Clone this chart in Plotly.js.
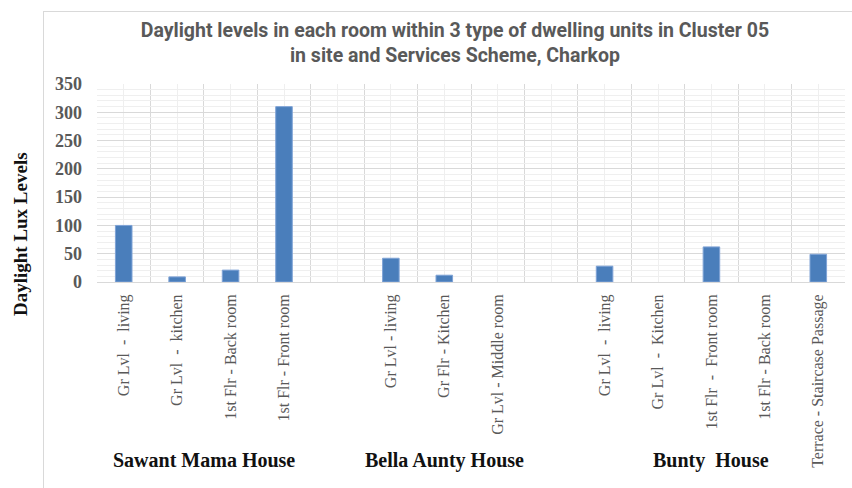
<!DOCTYPE html>
<html>
<head>
<meta charset="utf-8">
<script src="https://cdn.plot.ly/plotly-3.0.1.min.js"></script>
<style>
  html, body { margin: 0; padding: 0; background: #ffffff; }
  #wrap { position: relative; width: 852px; height: 488px; overflow: hidden; }
  #frame { position: absolute; left: 43px; top: 11px; width: 830px; height: 500px;
           border: 1px solid #d9d9d9; box-sizing: border-box; }
  #chart { position: absolute; left: 0; top: 0; width: 852px; height: 488px; }
</style>
</head>
<body>
<div id="wrap">
  <div id="frame"></div>
  <div id="chart"></div>
</div>
<script>
// Room labels along the x axis (empty strings are spacer slots between houses)
const rooms = [
  "Gr Lvl\u00a0 - \u00a0living",
  "Gr Lvl\u00a0 - \u00a0kitchen",
  "1st Flr - Back room",
  "1st Flr - Front room",
  "",
  "Gr Lvl - living",
  "Gr Flr - Kitchen",
  "Gr Lvl - Middle room",
  "",
  "Gr Lvl\u00a0 - \u00a0living",
  "Gr Lvl\u00a0 - \u00a0Kitchen",
  "1st Flr\u00a0 - \u00a0Front room",
  "1st Flr - Back room",
  "Terrace - Staircase Passage"
];

// Daylight lux level measured in each room (null = no bar)
const luxLevels = [100, 9, 21, 310, null, 42, 12, null, null, 28, null, 62, null, 49];

// Which house each slot belongs to
const houses = ["Sawant Mama House", "Bella Aunty House", "Bunty\u00a0 House"];
const houseOfSlot = [0, 0, 0, 0, null, 1, 1, 1, null, 2, 2, 2, 2, 2];

const slots = rooms.map((_, i) => i);
const boundaries = rooms.map((_, i) => i - 0.5).concat([rooms.length - 0.5]);

const serif = "Liberation Serif, DejaVu Serif, serif";

// House names centred under their own rooms
const houseAnnotations = houses.map((name, h) => {
  const members = slots.filter(i => houseOfSlot[i] === h);
  const mid = members.reduce((a, b) => a + b, 0) / members.length;
  return {
    text: "<b>" + name + "</b>",
    x: mid, xref: "x",
    y: -0.9, yref: "paper",
    xanchor: "center", yanchor: "middle",
    showarrow: false,
    font: { family: serif, size: 20, color: "#111111" }
  };
});

// Y axis caption, set a little below the middle of the plot
const yCaption = {
  text: "<b>Daylight Lux Levels</b>",
  textangle: -90,
  x: -0.103, xref: "paper",
  y: 0.242, yref: "paper",
  xanchor: "center", yanchor: "middle",
  showarrow: false,
  font: { family: serif, size: 19, color: "#111111" }
};

const trace = {
  type: "bar",
  x: slots,
  y: luxLevels,
  width: 0.31,
  marker: { color: "#4a7ebb", line: { color: "#7fa3d6", width: 1 } },
  hoverinfo: "skip"
};

const layout = {
  width: 852,
  height: 488,
  margin: { l: 97, r: 7, t: 84, b: 206 },
  paper_bgcolor: "rgba(0,0,0,0)",
  plot_bgcolor: "#ffffff",
  showlegend: false,
  title: {
    text: "Daylight levels in each room within 3 type of dwelling units in Cluster 05<br>in site and Services Scheme, Charkop",
    font: { family: "Liberation Sans Narrow, Roboto, sans-serif", size: 19.5, color: "#595959", weight: "bold" },
    x: 0.534, xanchor: "center",
    y: 0.925, yanchor: "top"
  },
  xaxis: {
    range: [-0.5, rooms.length - 0.5],
    tickmode: "array",
    tickvals: slots,
    ticktext: rooms,
    tickangle: -90,
    ticks: "",
    ticklabelstandoff: 5,
    tickfont: { family: serif, size: 16, color: "#595959" },
    showgrid: true,
    gridcolor: "#efefef",
    gridwidth: 1,
    minor: { tickmode: "array", tickvals: boundaries, showgrid: true, gridcolor: "#d9d9d9", gridwidth: 1, ticks: "" },
    showline: true,
    linecolor: "#d9d9d9",
    zeroline: false,
    fixedrange: true
  },
  yaxis: {
    range: [0, 350],
    tickmode: "linear",
    tick0: 0,
    dtick: 50,
    ticks: "",
    ticklabelstandoff: 14,
    tickfont: { family: serif, size: 18, color: "#595959", weight: "bold" },
    showgrid: true,
    gridcolor: "#d9d9d9",
    gridwidth: 1,
    minor: { dtick: 10, showgrid: true, gridcolor: "#efefef", gridwidth: 1, ticks: "" },
    zeroline: false,
    showline: false,
    fixedrange: true
  },
  annotations: houseAnnotations.concat([yCaption])
};

Plotly.newPlot("chart", [trace], layout, { displayModeBar: false, staticPlot: true });
</script>
</body>
</html>
